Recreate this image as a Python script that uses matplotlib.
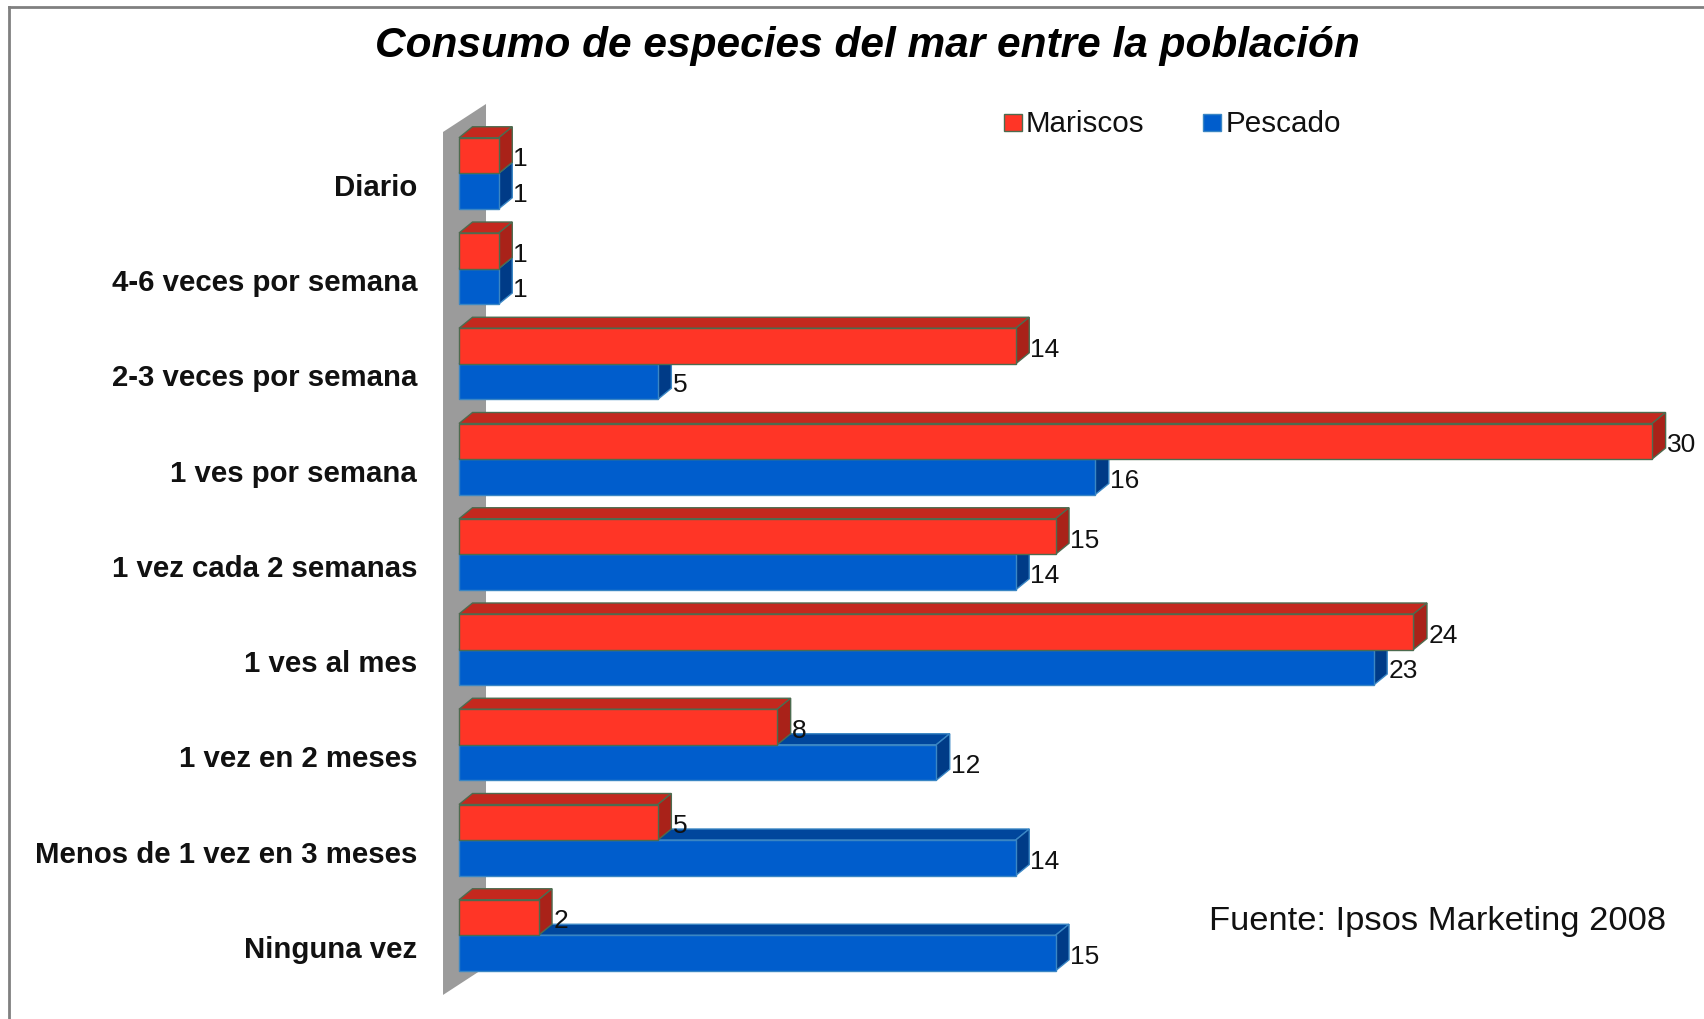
import matplotlib
matplotlib.use("Agg")
import matplotlib.pyplot as plt
from matplotlib.patches import Polygon, Rectangle
from matplotlib.lines import Line2D

plt.rcParams['font.family'] = ['Liberation Sans', 'DejaVu Sans']

categories = ["Diario", "4-6 veces por semana", "2-3 veces por semana",
              "1 ves por semana", "1 vez cada 2 semanas", "1 ves al mes",
              "1 vez en 2 meses", "Menos de 1 vez en 3 meses", "Ninguna vez"]
mariscos = [1, 1, 14, 30, 15, 24, 8, 5, 2]
pescado = [1, 1, 5, 16, 14, 23, 12, 14, 15]
series_names = ["Mariscos", "Pescado"]
title = "Consumo de especies del mar entre la población"
source = "Fuente: Ipsos Marketing 2008"

W, H = 1704, 1020
fig = plt.figure(figsize=(W / 100, H / 100), dpi=100)
ax = fig.add_axes([0, 0, 1, 1])
ax.axis('off')

x0_px, ppu = 459.0, 39.77       # pixel of value 0, pixels per unit
y0_px, ppc = 185.0, 95.25       # pixel of first category, pixels per category
ax.set_xlim((0 - x0_px) / ppu, (W - x0_px) / ppu)
ax.set_ylim((H - y0_px) / ppc, (0 - y0_px) / ppc)

dx = 13.5 / ppu
dy = 11.0 / ppc
h = 35.5 / ppc
red_off = -28.5 / ppc
blue_off = 7.0 / ppc
txt_shift = 3.0 / ppc

# wall
wall = Polygon([(-0.402, -0.546), (0.679, -0.840), (0.679, 8.22), (-0.402, 8.514)],
               closed=True, facecolor='#9b9b9b', edgecolor='none', zorder=1)
ax.add_patch(wall)

styles = {
    "Mariscos": dict(front='#ff3526', top='#c4281e', side='#a92219', edge='#4d6b4f', off=red_off),
    "Pescado": dict(front='#005dcc', top='#00469c', side='#003b87', edge='#3a86c4', off=blue_off),
}

def draw_bar(i, v, st, z):
    c = i + st['off']
    top = c - h / 2
    bot = c + h / 2
    ax.add_patch(Polygon([(0, top), (v, top), (v + dx, top - dy), (dx, top - dy)],
                         closed=True, facecolor=st['top'], edgecolor=st['edge'], lw=1.0, zorder=z))
    ax.add_patch(Polygon([(v, top), (v + dx, top - dy), (v + dx, bot - dy), (v, bot)],
                         closed=True, facecolor=st['side'], edgecolor=st['edge'], lw=1.0, zorder=z))
    ax.barh(c, v, height=h, left=0, color=st['front'], edgecolor=st['edge'], lw=1.0, zorder=z + 0.5)
    ax.text(v + dx + 0.03, c + txt_shift, str(v), ha='left', va='center', fontsize=19,
            color='#111111', zorder=10)

for i in range(len(categories)):
    draw_bar(i, pescado[i], styles["Pescado"], 2 + i * 0.01)
    draw_bar(i, mariscos[i], styles["Mariscos"], 3 + i * 0.01)

for i, cat in enumerate(categories):
    ax.text((417 - x0_px) / ppu, i + txt_shift, cat, ha='right', va='center', fontsize=21.2,
            fontweight='bold', color='#111111')

fig.text(867 / W, 1 - 46 / H, title, ha='center', va='center', fontsize=30.5,
         fontweight='bold', fontstyle='italic', color='black')
fig.text(1209 / W, 1 - 922 / H, source, ha='left', va='center', fontsize=24.8, color='#111111')

# legend
for (sx, tx, name) in [(1004, 1026, "Mariscos"), (1203, 1226, "Pescado")]:
    st = styles[name]
    fig.patches.append(Rectangle((sx / W, 1 - 132 / H), 18 / W, 17 / H, transform=fig.transFigure,
                                 facecolor=st['front'], edgecolor=st['edge'], lw=1.0))
    fig.text(tx / W, 1 - 124 / H, name, ha='left', va='center', fontsize=21.3, color='#111111')

# border (left and top visible)
fig.lines.append(Line2D([9 / W, 9 / W], [0, 1 - 8 / H], transform=fig.transFigure, color='#808080', lw=2))
fig.lines.append(Line2D([9 / W, 1], [1 - 8 / H, 1 - 8 / H], transform=fig.transFigure, color='#808080', lw=2))

fig.savefig("out.png", dpi=100, facecolor='white')
